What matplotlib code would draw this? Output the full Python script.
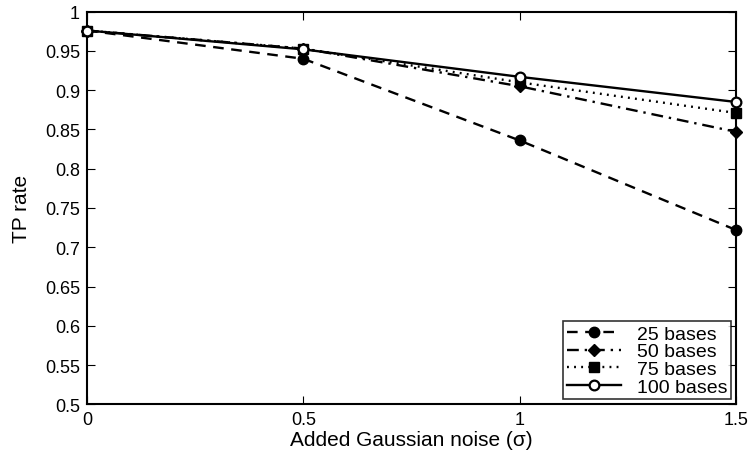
import matplotlib
matplotlib.use('Agg')
import matplotlib.pyplot as plt
import numpy as np
from matplotlib.ticker import FuncFormatter

plt.rcParams['font.family'] = ['Liberation Sans', 'DejaVu Sans']

noise = [0, 0.5, 1, 1.5]
names = ['25 bases', '50 bases', '75 bases', '100 bases']
tp_25 = [0.976, 0.940, 0.836, 0.722]
tp_50 = [0.976, 0.953, 0.905, 0.847]
tp_75 = [0.976, 0.953, 0.910, 0.871]
tp_100 = [0.976, 0.952, 0.917, 0.885]

series = [tp_25, tp_50, tp_75, tp_100]
styles = [
    dict(linestyle=(0, (4.5, 3.2)), marker='o', markersize=7.5, markerfacecolor='black'),
    dict(linestyle=(0, (5, 2.5, 1, 2.5)), marker='D', markersize=6.5, markerfacecolor='black'),
    dict(linestyle=(0, (0.8, 2.2)), marker='s', markersize=6.5, markerfacecolor='black'),
    dict(linestyle='-', marker='o', markersize=7, markerfacecolor='white', markeredgewidth=1.6),
]

fig = plt.figure(figsize=(7.51, 4.52), dpi=100)
ax = fig.add_axes([0.1158, 0.1033, 0.8642, 0.8687])

for ys, name, st in zip(series, names, styles):
    ax.plot(noise, ys, color='black', linewidth=1.7, markeredgecolor='black',
            label=name, clip_on=False, zorder=3, **st)

ax.set_xlim(0, 1.5)
ax.set_ylim(0.5, 1.0)
ax.set_xticks(noise)
ax.set_yticks(np.arange(0.5, 1.0001, 0.05))
fmt = FuncFormatter(lambda v, p: ('%.2f' % v).rstrip('0').rstrip('.'))
ax.xaxis.set_major_formatter(fmt)
ax.yaxis.set_major_formatter(fmt)
ax.tick_params(direction='in', top=True, right=True, length=6, width=0.8,
               labelsize=13, colors='black', pad=5)
for s in ax.spines.values():
    s.set_linewidth(1.5)

ax.set_xlabel('Added Gaussian noise (\u03c3)', fontsize=15, labelpad=1)
ax.set_ylabel('TP rate', fontsize=15, labelpad=10)

leg = ax.legend(loc='lower right', fontsize=14, handlelength=2.8, handletextpad=0.8,
                frameon=True, fancybox=False, borderpad=0.2, labelspacing=0.0,
                borderaxespad=0.25)
leg.get_frame().set_edgecolor('black')
leg.get_frame().set_linewidth(1.2)
leg.set_zorder(5)

plt.savefig('out.png', dpi=100)
